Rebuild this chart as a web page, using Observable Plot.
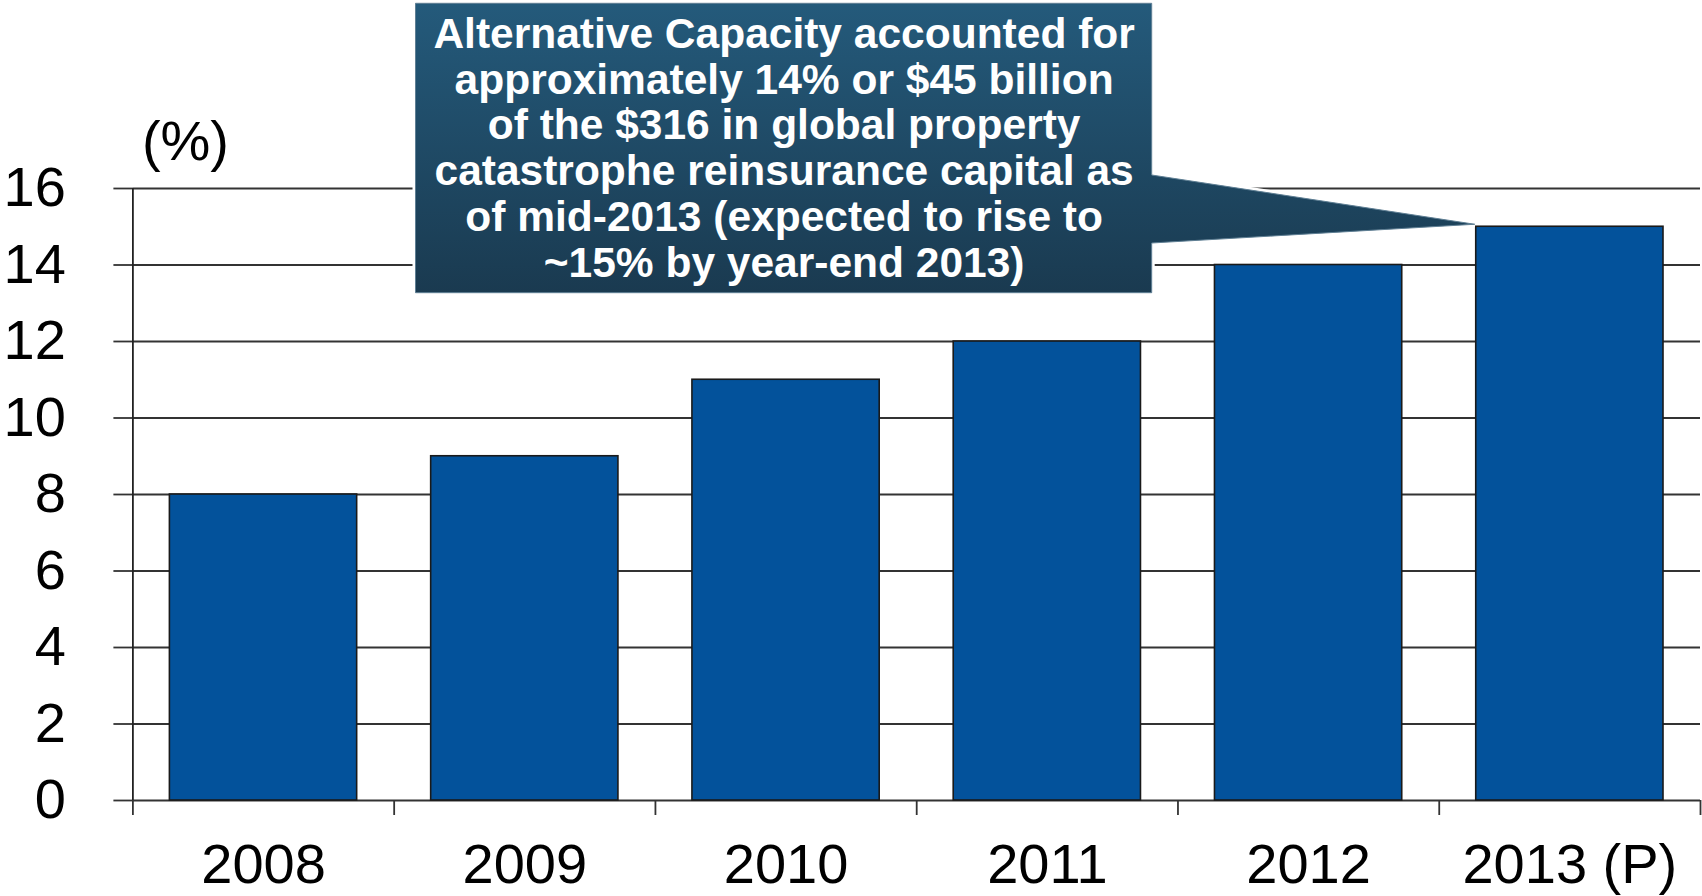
<!DOCTYPE html>
<html>
<head>
<meta charset="utf-8">
<script src="https://cdn.jsdelivr.net/npm/d3@7"></script>
<script src="https://cdn.jsdelivr.net/npm/@observablehq/plot@0.6"></script>
<style>
  html, body { margin: 0; padding: 0; background: #fff; }
  #chart svg { display: block; font-family: "Liberation Sans", Arial, sans-serif; }
</style>
</head>
<body>
<div id="chart"></div>
<script>
// ---- data ----
const years = ["2008", "2009", "2010", "2011", "2012", "2013 (P)"];
const shares = [8, 9, 11, 12, 14, 15];
const yTicks = [0, 2, 4, 6, 8, 10, 12, 14, 16];
const unitLabel = "(%)";
const noteLines = [
  "Alternative Capacity accounted for",
  "approximately 14% or $45 billion",
  "of the $316 in global property",
  "catastrophe reinsurance capital as",
  "of mid-2013 (expected to rise to",
  "~15% by year-end 2013)"
];

const rows = years.map((year, i) => ({year, i, i1: i + 1, mid: i + 0.5, value: shares[i]}));
const boundaries = d3.range(years.length + 1);

const W = 1702, H = 896;
const mL = 132.4, mR = 2, mT = 188, mB = 96;
const barInset = 37;

// callout shape (box + pointer to the last bar)
function callout(index, scales, values, dims, context) {
  const svg = d3.create("svg:g");
  const last = rows[rows.length - 1];
  const tipX = scales.x(last.i) + barInset - 1;
  const tipY = scales.y(last.value) - 2;
  const bx0 = 415.5, bx1 = 1151.7, by0 = 3.3, by1 = 292.7;
  const py0 = 175, py1 = 243;
  const id = "calloutGrad";
  const defs = svg.append("defs");
  const g = defs.append("linearGradient").attr("id", id)
    .attr("gradientUnits", "userSpaceOnUse")
    .attr("x1", 0).attr("x2", 0).attr("y1", by0).attr("y2", by1);
  g.append("stop").attr("offset", 0).attr("stop-color", "#245a7b");
  g.append("stop").attr("offset", 1).attr("stop-color", "#1a3a50");
  const d = `M${bx0},${by0}H${bx1}V${py0}L${tipX},${tipY}L${bx1},${py1}V${by1}H${bx0}Z`;
  svg.append("path").attr("d", d).attr("fill", "none").attr("stroke", "#fff").attr("stroke-width", 6).attr("stroke-linejoin", "miter");
  svg.append("path").attr("d", d).attr("fill", `url(#${id})`).attr("stroke", "#5f7f94").attr("stroke-width", 1);
  return svg.node();
}

const chart = Plot.plot({
  width: W,
  height: H,
  marginLeft: mL,
  marginRight: mR,
  marginTop: mT,
  marginBottom: mB,
  style: {fontFamily: "'Liberation Sans', Arial, sans-serif", color: "#000", background: "#fff"},
  x: {type: "linear", domain: [0, years.length]},
  y: {domain: [0, 16]},
  marks: [
    Plot.gridY(yTicks, {stroke: "#333", strokeOpacity: 1, strokeWidth: 1.8}),
    Plot.axisY(yTicks, {tickSize: 19, tickPadding: 48, fontSize: 56, stroke: "#333", strokeWidth: 1.8, tickFormat: d => String(d), label: null}),
    Plot.axisX(boundaries, {tickSize: 15, tickFormat: () => "", stroke: "#333", strokeWidth: 1.8, label: null}),
    Plot.ruleX([0], {y1: 0, y2: 16, stroke: "#222", strokeWidth: 1.8}),
    Plot.rectY(rows, {x1: "i", x2: "i1", y: "value", insetLeft: barInset, insetRight: barInset, fill: "#03529b", stroke: "#1a1a1a", strokeWidth: 1.6}),
    Plot.text(rows, {x: "mid", y: 0, text: "year", dy: 65, fontSize: 56, fill: "#000", lineAnchor: "middle"}),
    Plot.text([unitLabel], {x: 0, y: 16, text: d => d, dx: 9, dy: -46, textAnchor: "start", lineAnchor: "middle", fontSize: 56, fill: "#000"}),
    callout,
    Plot.text([noteLines.join("\n")], {frameAnchor: "top-left", text: d => d, dx: 783.6 - mL, dy: 147.2 - mT, textAnchor: "middle", lineAnchor: "middle", lineHeight: 1.079, fontSize: 42.5, fontWeight: "bold", fill: "#fff"})
  ]
});

document.getElementById("chart").appendChild(chart);
</script>
</body>
</html>
